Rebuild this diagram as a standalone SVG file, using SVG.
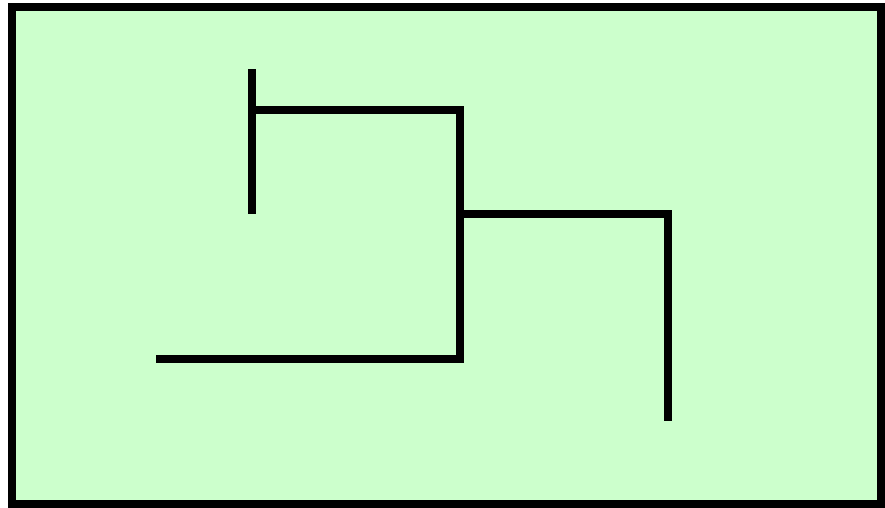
<svg xmlns="http://www.w3.org/2000/svg" width="885" height="508" viewBox="0 0 885 508">
<style>
.ln{fill:none;stroke:#000;stroke-width:8;stroke-linejoin:miter;stroke-linecap:butt}
</style>
<rect id="frame" x="12" y="7" width="869" height="497" fill="#ccffcc" stroke="#000" stroke-width="8"/>
<g id="connectors">
<path class="ln" d="M252,69 V214"/>
<path class="ln" d="M252,110 H460 V359 H156"/>
<path class="ln" d="M460,214 H668 V421"/>
</g>
</svg>
